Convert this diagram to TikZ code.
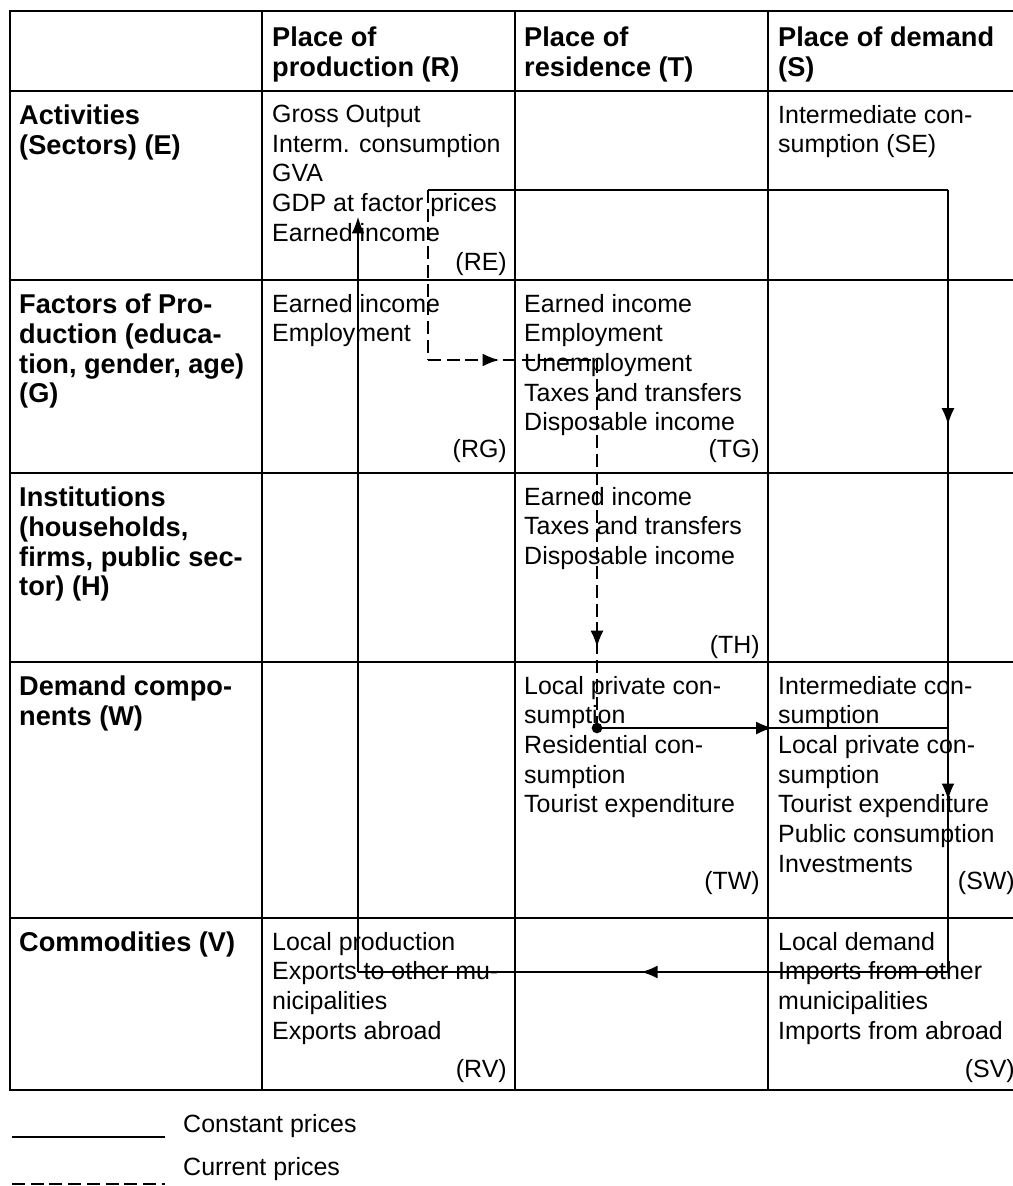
\documentclass[tikz,border=0pt]{standalone}
\usepackage{fontspec}
\setmainfont{Liberation Sans}
\usetikzlibrary{arrows.meta, decorations.markings}
\newcommand{\cellfont}{\fontsize{21.3}{25.3}\selectfont}
\newcommand{\headfont}{\fontsize{23.2}{25.3}\selectfont\bfseries}
\tikzset{
  gridline/.style={line width=1.8pt},
  cell/.style={anchor=north west, inner sep=0pt, align=left, font=\cellfont},
  head/.style={cell, font=\headfont},
  tag/.style={anchor=base east, inner sep=0pt, font=\cellfont},
  flow/.style={line width=1.3pt},
  currentflow/.style={flow, dash pattern=on 11pt off 5pt},
  midarrow/.style={postaction={decorate, decoration={markings, mark=at position #1 with {\arrow{Latex[length=14pt,width=11pt]}}}}},
}

\begin{document}
\begin{tikzpicture}
            \useasboundingbox (0,0) rectangle (30.39,-35.58);
            \coordinate (TL) at (0.30,-0.33);
            \coordinate (BR) at (30.60,-32.70);

            \draw [gridline] (TL) rectangle (BR);% Draw table frame
            \foreach \x in {7.86,15.45,23.04} \draw [gridline] (\x,-0.33) -- (\x,-32.70);
            \foreach \y in {-2.73,-8.40,-14.19,-19.86,-27.54} \draw [gridline] (0.30,\y) -- (30.60,\y);

            \node[head] (colR) at (8.16,-0.81) {Place of\\production (R)};
            \node[head] (colT) at (15.72,-0.81) {Place of\\residence (T)};
            \node[head] (colS) at (23.34,-0.81) {Place of demand\\(S)};

            \node[head] (rowE) at (0.57,-3.15) {Activities\\(Sectors) (E)};
            \node[head] (rowG) at (0.57,-8.82) {Factors of Pro-\\duction (educa-\\tion, gender, age)\\(G)};
            \node[head] (rowH) at (0.57,-14.61) {Institutions\\(households,\\firms, public sec-\\tor) (H)};
            \node[head] (rowW) at (0.57,-20.28) {Demand compo-\\nents (W)};
            \node[head] (rowV) at (0.57,-27.96) {Commodities (V)};

            \node[cell] (RE) at (8.16,-3.15) {Gross Output\\Interm. consumption\\GVA\\GDP at factor prices\\Earned income};
            \node[cell] (SE) at (23.34,-3.15) {Intermediate con-\\sumption (SE)};
            \node[cell] (RG) at (8.16,-8.82) {Earned income\\Employment};
            \node[cell] (TG) at (15.72,-8.82) {Earned income\\Employment\\Unemployment\\Taxes and transfers\\Disposable income};
            \node[cell] (TH) at (15.72,-14.61) {Earned income\\Taxes and transfers\\Disposable income};
            \node[cell] (TW) at (15.72,-20.28) {Local private con-\\sumption\\Residential con-\\sumption\\Tourist expenditure};
            \node[cell] (SW) at (23.34,-20.28) {Intermediate con-\\sumption\\Local private con-\\sumption\\Tourist expenditure\\Public consumption\\Investments};
            \node[cell] (RV) at (8.16,-27.96) {Local production\\Exports to other mu-\\nicipalities\\Exports abroad};
            \node[cell] (SV) at (23.34,-27.96) {Local demand\\Imports from other\\municipalities\\Imports from abroad};

            \node[tag] (tagRE) at (15.21,-8.10) {(RE)};
            \node[tag] (tagRG) at (15.21,-13.71) {(RG)};
            \node[tag] (tagTG) at (22.80,-13.71) {(TG)};
            \node[tag] (tagTH) at (22.80,-19.59) {(TH)};
            \node[tag] (tagTW) at (22.80,-26.67) {(TW)};
            \node[tag] (tagSW) at (30.45,-26.67) {(SW)};
            \node[tag] (tagRV) at (15.21,-32.31) {(RV)};
            \node[tag] (tagSV) at (30.45,-32.31) {(SV)};

            % flow of income and demand
            \coordinate (REout) at (12.84,-5.70);
            \coordinate (SEtop) at (28.44,-5.70);
            \coordinate (RGturn) at (12.84,-10.80);
            \coordinate (TGturn) at (17.91,-10.80);
            \coordinate (TWdot) at (17.91,-21.84);
            \coordinate (SWjoin) at (28.44,-21.84);
            \coordinate (SVturn) at (28.44,-29.16);
            \coordinate (RVturn) at (10.74,-29.16);
            \coordinate (REin) at (10.74,-6.51);

            \draw[currentflow] (REout) -- (RGturn);
            \draw[currentflow, midarrow=0.42] (RGturn) -- (TGturn);
            \draw[currentflow, midarrow=0.78] (TGturn) -- (TWdot);
            \fill (TWdot) circle (0.16);
            \draw[flow, midarrow=0.50] (TWdot) -- (SWjoin);
            \draw[flow] (REout) -- (SEtop);
            \draw[flow, midarrow=0.30, midarrow=0.78] (SEtop) -- (SVturn);
            \draw[flow, midarrow=0.52] (SVturn) -- (RVturn);
            \draw[flow, -{Latex[length=14pt,width=11pt]}] (RVturn) -- (REin);

            % legend
            \coordinate (solidL) at (0.36,-34.11);
            \coordinate (solidR) at (4.95,-34.11);
            \coordinate (dashL) at (0.36,-35.52);
            \coordinate (dashR) at (4.95,-35.52);
            \draw[flow] (solidL) -- (solidR);
            \node[tag, anchor=base west] (constant) at (5.49,-33.96) {Constant prices};
            \draw[currentflow, line width=2pt] (dashL) -- (dashR);
            \node[tag, anchor=base west] (current) at (5.49,-35.25) {Current prices};
        \end{tikzpicture}
\end{document}
